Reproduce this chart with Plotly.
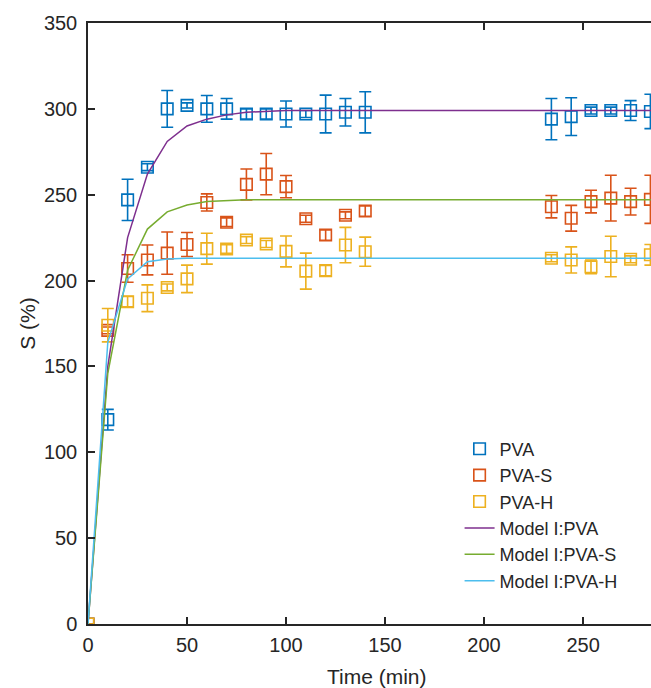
import plotly.graph_objects as go

# ---------------- data ----------------
t_exp = [0, 10, 20, 30, 40, 50, 60, 70, 80, 90, 100, 110, 120, 130, 140,
         234, 244, 254, 264, 274, 284]

pva = [0, 119, 247, 266, 300, 302, 300, 300, 297, 297, 297, 297, 297, 298, 298,
       294, 295.5, 299, 299, 299, 298.5]
pva_err = [0, 6, 12, 2, 10.7, 1.5, 7.8, 6, 3, 3, 7.6, 2, 11, 8, 12,
           12, 11, 2, 2, 5.8, 10]

pvas = [0, 171, 207, 212, 216, 221, 245.5, 234, 256, 262, 254.7, 236, 226.5, 238, 240.5,
        243, 236.3, 246, 248, 246, 247.3]
pvas_err = [0, 2, 8, 8.7, 12.3, 7, 5, 2.5, 9, 12, 6.5, 2, 3, 2, 3,
            6.5, 7.5, 6.6, 13.3, 7.8, 14]

pvah = [0, 174, 187.7, 189.7, 196, 201, 218.6, 218.4, 223.6, 221.3, 217, 205.5, 205.8, 220.7, 216.8,
        213, 212, 208, 214, 212.4, 215]
pvah_err = [0, 9.7, 3, 7.8, 2, 8, 9, 2.5, 2, 2, 9, 10.5, 3, 10.3, 8.5,
            2, 7.6, 4, 11.8, 2, 6]

t_model = [0, 10, 20, 30, 40, 50, 60, 70, 80, 90, 100, 110, 120, 130, 140,
           150, 160, 170, 180, 190, 200, 210, 220, 230, 240, 250, 260, 270, 280, 290]
pva_model = [0, 150, 225, 262, 281, 290, 294, 296.5, 298, 298.5, 299, 299, 299, 299, 299,
             299, 299, 299, 299, 299, 299, 299, 299, 299, 299, 299, 299, 299, 299, 299]
pvas_model = [0, 146, 206, 230, 240, 244, 246, 246.5, 247, 247, 247, 247, 247, 247, 247,
              247, 247, 247, 247, 247, 247, 247, 247, 247, 247, 247, 247, 247, 247, 247]
pvah_model = [0, 164, 201, 211, 212.5, 213, 213, 213, 213, 213, 213, 213, 213, 213, 213,
              213, 213, 213, 213, 213, 213, 213, 213, 213, 213, 213, 213, 213, 213, 213]

x_ticks = [0, 50, 100, 150, 200, 250]
y_ticks = [0, 50, 100, 150, 200, 250, 300, 350]

# ---------------- style ----------------
C_BLUE = "#0072BD"
C_ORANGE = "#D95319"
C_YELLOW = "#EDB120"
C_PURPLE = "#7E2F8E"
C_GREEN = "#77AC30"
C_LBLUE = "#4DBEEE"
TXT = "#262626"
FONT = "Liberation Sans, Arial, sans-serif"

fig = go.Figure()

for name, y, e, c in [("PVA", pva, pva_err, C_BLUE),
                      ("PVA-S", pvas, pvas_err, C_ORANGE),
                      ("PVA-H", pvah, pvah_err, C_YELLOW)]:
    fig.add_trace(go.Scatter(
        x=t_exp, y=y, mode="markers", name=name,
        marker=dict(symbol="square-open", size=11.5, color=c, line=dict(width=1.6, color=c)),
        error_y=dict(type="data", array=e, visible=True, color=c, thickness=1.6, width=6),
    ))

for name, y, c in [("Model I:PVA", pva_model, C_PURPLE),
                   ("Model I:PVA-S", pvas_model, C_GREEN),
                   ("Model I:PVA-H", pvah_model, C_LBLUE)]:
    fig.add_trace(go.Scatter(
        x=t_model, y=y, mode="lines", name=name,
        line=dict(color=c, width=1.5),
    ))

fig.update_layout(
    width=651, height=688,
    margin=dict(l=88, r=0, t=23, b=64),
    paper_bgcolor="white", plot_bgcolor="white",
    font=dict(family=FONT, color=TXT, size=20),
    showlegend=True,
    legend=dict(x=0.66, y=0.322, xanchor="left", yanchor="top",
                bgcolor="rgba(255,255,255,0)", borderwidth=0,
                font=dict(size=18, color=TXT, family=FONT),
                itemwidth=30, tracegroupgap=0),
    xaxis=dict(range=[0, 284.3], tickvals=x_ticks, ticks="inside", ticklen=7,
               tickwidth=1.5, tickcolor=TXT, showline=True, linecolor=TXT, linewidth=1.5,
               mirror="ticks", showgrid=False, zeroline=False,
               tickfont=dict(size=20, color=TXT), ticklabelstandoff=2),
    yaxis=dict(range=[0, 350], tickvals=y_ticks, ticks="inside", ticklen=7,
               tickwidth=1.5, tickcolor=TXT, showline=True, linecolor=TXT, linewidth=1.5,
               mirror=False, showgrid=False, zeroline=False,
               tickfont=dict(size=20, color=TXT), ticklabelstandoff=5,
               title=dict(text="S (%)", font=dict(size=21, color=TXT), standoff=3)),
    annotations=[dict(text="Time (min)", xref="paper", yref="paper", x=0.513, y=0,
                      yshift=-39, xanchor="center", yanchor="top", showarrow=False,
                      font=dict(size=21, color=TXT, family=FONT))],
)

fig.write_html("out.html")
